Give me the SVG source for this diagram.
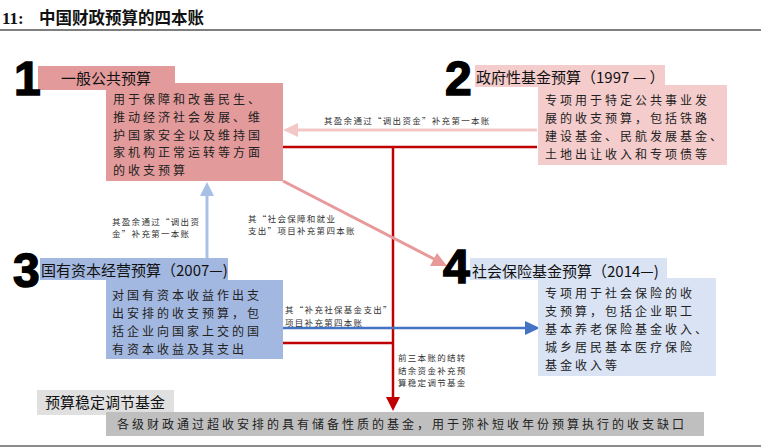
<svg xmlns="http://www.w3.org/2000/svg" width="761" height="448" viewBox="0 0 761 448">
<style>
.cjk{font-family:"Noto Sans CJK SC","Noto Sans",sans-serif}
.body{font-family:"Noto Sans CJK SC",sans-serif;font-size:12px;letter-spacing:3px;fill:#222}
.ttl{font-family:"Noto Sans CJK SC","Liberation Sans",sans-serif;font-size:15px;fill:#111}
.num{font-family:"Liberation Sans",Arial,sans-serif;font-size:48px;font-weight:bold;fill:#000;stroke:#000;stroke-width:1.5}
.sm{font-family:"Noto Sans CJK SC",sans-serif;font-size:8.5px;letter-spacing:1.3px;fill:#333}
</style>
<rect width="761" height="448" fill="#fff"/>
<g id="header">
<text x="2" y="24" font-family="Liberation Serif,serif" font-weight="bold" font-size="17" fill="#111">11:</text>
<text x="39" y="24" class="cjk" font-weight="bold" font-size="16.5" fill="#111">中国财政预算的四本账</text>
<line x1="0" y1="30" x2="761" y2="30" stroke="#555" stroke-width="1.5"/>
<line x1="0" y1="446" x2="761" y2="446" stroke="#666" stroke-width="1.5"/>
</g>
<g id="connectors">
<line x1="537" y1="130" x2="297" y2="130" stroke="#f4c7c7" stroke-width="3"/>
<path d="M283,130 L298,123 L298,137 z" fill="#f4c7c7"/>
<text x="324" y="124" class="sm">其盈余通过“调出资金”补充第一本账</text>
<line x1="283" y1="147" x2="537" y2="147" stroke="#c00000" stroke-width="2.5"/>
<line x1="393" y1="147" x2="393" y2="398" stroke="#c00000" stroke-width="2.5"/>
<path d="M393,411 L386,397 L400,397 z" fill="#c00000"/>
<line x1="283" y1="343" x2="393" y2="343" stroke="#c00000" stroke-width="2.5"/>
<text class="sm"><tspan x="398" y="361">前三本账的结转</tspan><tspan x="398" y="373.5">结余资金补充预</tspan><tspan x="398" y="386">算稳定调节基金</tspan></text>
<line x1="207" y1="258" x2="207" y2="195" stroke="#a9c0e6" stroke-width="3"/>
<path d="M207,182 L200,196 L214,196 z" fill="#a9c0e6"/>
<text class="sm"><tspan x="112" y="224.5">其盈余通过“调出资</tspan><tspan x="112" y="237">金”补充第一本账</tspan></text>
<line x1="283" y1="181" x2="436" y2="260" stroke="#e8999a" stroke-width="3"/>
<path d="M447,266 L430,266 L437,253 z" fill="#e8999a"/>
<text class="sm"><tspan x="248" y="221.5">其“社会保障和就业</tspan><tspan x="248" y="234">支出”项目补充第四本账</tspan></text>
<line x1="283" y1="328" x2="526" y2="328" stroke="#4472c4" stroke-width="2.5"/>
<path d="M540,328 L525,321 L525,335 z" fill="#4472c4"/>
<text class="sm"><tspan x="285" y="313">其“补充社保基金支出”</tspan><tspan x="285" y="325.5">项目补充第四本账</tspan></text>
</g>
<g id="node1">
<rect x="38" y="66" width="137" height="24" fill="#e39a9b"/>
<rect x="106" y="83" width="177" height="98" fill="#e39a9b"/>
<text x="14" y="95" class="num">1</text>
<text x="61" y="84" class="ttl">一般公共预算</text>
<text class="body"><tspan x="113" y="104">用于保障和改善民生、</tspan><tspan x="113" y="121.8">推动经济社会发展、维</tspan><tspan x="113" y="139.6">护国家安全以及维持国</tspan><tspan x="113" y="157.4">家机构正常运转等方面</tspan><tspan x="113" y="175.2">的收支预算</tspan></text>
</g>
<g id="node2">
<rect x="475" y="65" width="190" height="22" fill="#f4cccc"/>
<rect x="538" y="85" width="189" height="80" fill="#f4cccc"/>
<text x="445" y="95" class="num">2</text>
<text x="476" y="83" class="ttl">政府性基金预算（1997 — ）</text>
<text class="body"><tspan x="545" y="105">专项用于特定公共事业发</tspan><tspan x="545" y="123">展的收支预算，包括铁路</tspan><tspan x="545" y="141">建设基金、民航发展基金、</tspan><tspan x="545" y="159">土地出让收入和专项债等</tspan></text>
</g>
<g id="node3">
<rect x="40" y="258" width="188" height="22" fill="#a3b8e0"/>
<rect x="106" y="280" width="177" height="79" fill="#a3b8e0"/>
<text x="13" y="287" class="num">3</text>
<text x="41" y="276" class="ttl">国有资本经营预算（2007—)</text>
<text class="body"><tspan x="112" y="300">对国有资本收益作出支</tspan><tspan x="112" y="318">出安排的收支预算，包</tspan><tspan x="112" y="336">括企业向国家上交的国</tspan><tspan x="112" y="354">有资本收益及其支出</tspan></text>
</g>
<g id="node4">
<rect x="470" y="258" width="197" height="22" fill="#dae3f3"/>
<rect x="538" y="278" width="178" height="98" fill="#dae3f3"/>
<text x="443" y="283" class="num">4</text>
<text x="472" y="277" class="ttl">社会保险基金预算（2014—)</text>
<text class="body"><tspan x="545" y="298">专项用于社会保险的收</tspan><tspan x="545" y="316">支预算，包括企业职工</tspan><tspan x="545" y="334">基本养老保险基金收入、</tspan><tspan x="545" y="352">城乡居民基本医疗保险</tspan><tspan x="545" y="370">基金收入等</tspan></text>
</g>
<g id="node5">
<rect x="37" y="390" width="137" height="25" fill="#e0e0e0"/>
<rect x="106" y="412" width="598" height="24" fill="#bfbfbf"/>
<text x="45" y="408" class="ttl" font-size="15.5">预算稳定调节基金</text>
<text x="117" y="429" class="body">各级财政通过超收安排的具有储备性质的基金，用于弥补短收年份预算执行的收支缺口</text>
</g>
</svg>
